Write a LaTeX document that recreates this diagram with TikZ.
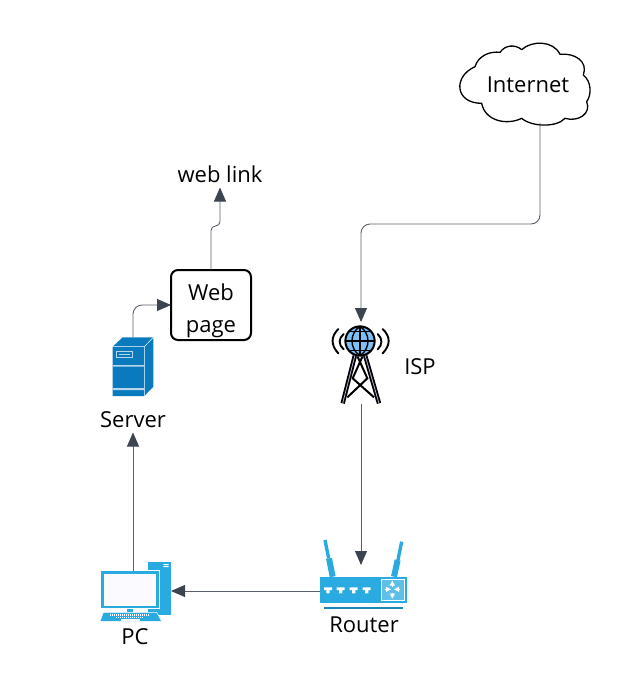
\documentclass[tikz,border=0pt]{standalone}
\usepackage{fontspec}
\setmainfont{Open Sans}
\usetikzlibrary{arrows.meta}
\definecolor{conn}{HTML}{5A606A}
\definecolor{tip}{HTML}{3C4450}
\definecolor{sky}{HTML}{29ABE2}
\definecolor{skyline}{HTML}{1B87B5}
\definecolor{srv}{HTML}{0A7ABF}
\definecolor{globe}{HTML}{7CC0F5}
\tikzset{
  x=1pt,y=-1pt,
  conn/.style={draw=conn,line width=0.9pt,rounded corners=9pt,-{Triangle[length=14pt,width=12pt,color=tip]}},
  lbl/.style={inner sep=0pt,outer sep=0pt,font=\fontsize{22}{32}\selectfont,text=black,text height=22pt,text depth=5pt,minimum height=27pt},
  anchorbox/.style={inner sep=0pt,outer sep=0pt,minimum width=#1},
  iconat/.style={shift={(#1)},scale=1/3},
  pagebox/.style={draw=black,line width=2pt,rounded corners=7pt,fill=white,inner sep=0pt,outer sep=0pt,minimum width=80pt,minimum height=70pt,align=center,font=\fontsize{22}{32}\selectfont},
  wave/.style={draw=black,line width=1.9pt,line cap=round},
  leg/.style={draw=black,line width=2pt},
}
\begin{document}
\begin{tikzpicture}
\useasboundingbox (0,0) rectangle (638,691);
% anchors of the icons
\node[anchorbox=100pt,minimum height=82pt] (internet) at (540,82) {};
\node[anchorbox=68pt,minimum height=82pt] (isp) at (361,363) {};
\node[anchorbox=82pt,minimum height=52pt] (router) at (361,591) {};
\node[anchorbox=76pt,minimum height=40pt] (pc) at (133,591) {};
\node[anchorbox=40pt,minimum height=60pt] (server) at (133,367) {};
% cloud
\begin{scope}[iconat={450,35}]
\draw[black,line width=1.3pt,fill=white,line join=round]
 (75,95) .. controls (85,62) and (120,48) .. (150,52)
 .. controls (165,30) and (195,27) .. (215,44)
 .. controls (245,16) and (310,16) .. (330,58)
 .. controls (375,53) and (415,80) .. (400,120)
 .. controls (425,140) and (425,180) .. (410,200)
 .. controls (425,235) and (385,262) .. (345,250)
 .. controls (320,278) and (245,276) .. (215,250)
 .. controls (170,272) and (105,258) .. (95,205)
 .. controls (15,205) and (8,125) .. (75,95) -- cycle;
\end{scope}
\node[lbl] (internetlabel) at (528,84) {Internet};
% tower
\begin{scope}[iconat={310,310}]
\foreach \a/\b/\c/\d in {135/135/98/280,165/135/207/280}{
  \draw[black,line width=4.4pt] (\a,\b) -- (\c,\d);
  \draw[black!55!blue!30!white,line width=0.8pt] (\a,\b) -- (\c,\d);
}
\draw[leg] (142,138) -- (172,205) -- (112,262);
\draw[leg] (158,138) -- (128,205) -- (192,262);
\fill[white] (150,93) circle (47);
\draw[black,line width=2pt,fill=globe] (150,93) circle (44);
\draw[black,line width=1.4pt] (106,93) -- (194,93) (150,49) -- (150,137);
\draw[black,line width=1.4pt] (150,49) .. controls (118,70) and (118,116) .. (150,137);
\draw[black,line width=1.4pt] (150,49) .. controls (182,70) and (182,116) .. (150,137);
\draw[black,line width=1.4pt] (117,65) -- (183,65) (117,121) -- (183,121);
\draw[wave] (85,57) .. controls (62,80) and (62,105) .. (85,130);
\draw[wave] (101,72) .. controls (85,85) and (85,105) .. (101,118);
\draw[wave] (218,57) .. controls (242,80) and (242,105) .. (218,130);
\draw[wave] (203,72) .. controls (218,85) and (218,105) .. (203,118);
\end{scope}
\node[lbl] (isplabel) at (420,366) {ISP};
% router
\begin{scope}[iconat={310,530}]
\draw[sky,line width=3.4pt] (45,30) -- (56,85);
\draw[sky,line width=6pt] (57,85) -- (68,140);
\draw[sky,line width=3.4pt] (275,35) -- (264,90);
\draw[sky,line width=6pt] (263,90) -- (252,140);
\fill[sky] (30,140) rectangle (292,220);
\fill[skyline] (42,230) rectangle (280,236);
\foreach \p in {54,92,131,170}{
  \fill[white] (\p-12,172) -- (\p+12,172) -- (\p+12,180) -- (\p+5,180) -- (\p+5,190) -- (\p-5,190) -- (\p-5,180) -- (\p-12,180) -- cycle;
}
\draw[white,line width=0.9pt,fill=sky!75!white] (214,147) rectangle (283,212);
\draw[white,line width=1.4pt,-{Triangle[length=5pt,width=5pt]}] (247,170) -- (247,152);
\draw[white,line width=1.4pt,-{Triangle[length=5pt,width=5pt]}] (247,188) -- (247,206);
\draw[white,line width=1.4pt,-{Triangle[length=5pt,width=5pt]}] (224,178) -- (243,178);
\draw[white,line width=1.4pt,-{Triangle[length=5pt,width=5pt]}] (271,178) -- (252,178);
\end{scope}
\node[lbl] (routerlabel) at (364,624) {Router};
% pc
\begin{scope}[iconat={90,550}]
\fill[sky] (175,35) rectangle (242,195);
\fill[white] (220,42) rectangle (236,45) (220,48) rectangle (236,51);
\fill[sky] (110,176) rectangle (130,187);
\draw[white,line width=0.6pt,fill=sky] (30,62) rectangle (208,175);
\fill[blue!2!white] (41,72) rectangle (199,168);
\draw[white,line width=0.5pt,fill=sky] (40,187) -- (200,187) -- (215,214) -- (30,214) -- cycle;
\draw[white,line width=0.9pt,dash pattern=on 1.2pt off 0.8pt] (60,192) -- (178,192);
\draw[white,line width=0.9pt,dash pattern=on 1.2pt off 0.8pt] (60,197) -- (178,197);
\draw[white,line width=0.9pt,dash pattern=on 1.2pt off 0.8pt] (78,202) -- (160,202);
\fill[white] (92,207) rectangle (150,213);
\end{scope}
\node[lbl] (pclabel) at (135,636) {PC};
% server
\begin{scope}[iconat={100,260}]
\fill[srv] (38,260) -- (68,232) -- (160,232) -- (160,380) -- (133,408) -- (38,408) -- cycle;
\draw[white,line width=0.5pt] (38,260) -- (133,260) -- (160,232) (133,260) -- (133,408);
\fill[white!70!srv] (38,315) rectangle (133,320) (38,384) rectangle (133,390);
\draw[white!70!srv,line width=0.7pt] (50,273) rectangle (98,293);
\fill[white!70!srv] (57,281) rectangle (91,285);
\end{scope}
\node[lbl] (serverlabel) at (133,419) {Server};
% web page and link
\node[pagebox] (page) at (211,305) {\rule{0pt}{28pt}Web\\page};
\node[lbl] (weblink) at (220,174) {web link};
% connectors
\coordinate (j1) at (215,226);
\coordinate (j2) at (450,224);
\draw[conn] (internet.south) |- (j2) -| (isp.north);
\draw[conn] (isp.south) -- (router.north);
\draw[conn] (router.west) -- (pc.east);
\draw[conn] (pc.north) -- (serverlabel.south);
\draw[conn] (server.north) |- (page.west);
\draw[conn,rounded corners=4.5pt] (page.north) -- (page.north |- j1) -- (weblink.south |- j1) -- (weblink.south);
\end{tikzpicture}
\end{document}
